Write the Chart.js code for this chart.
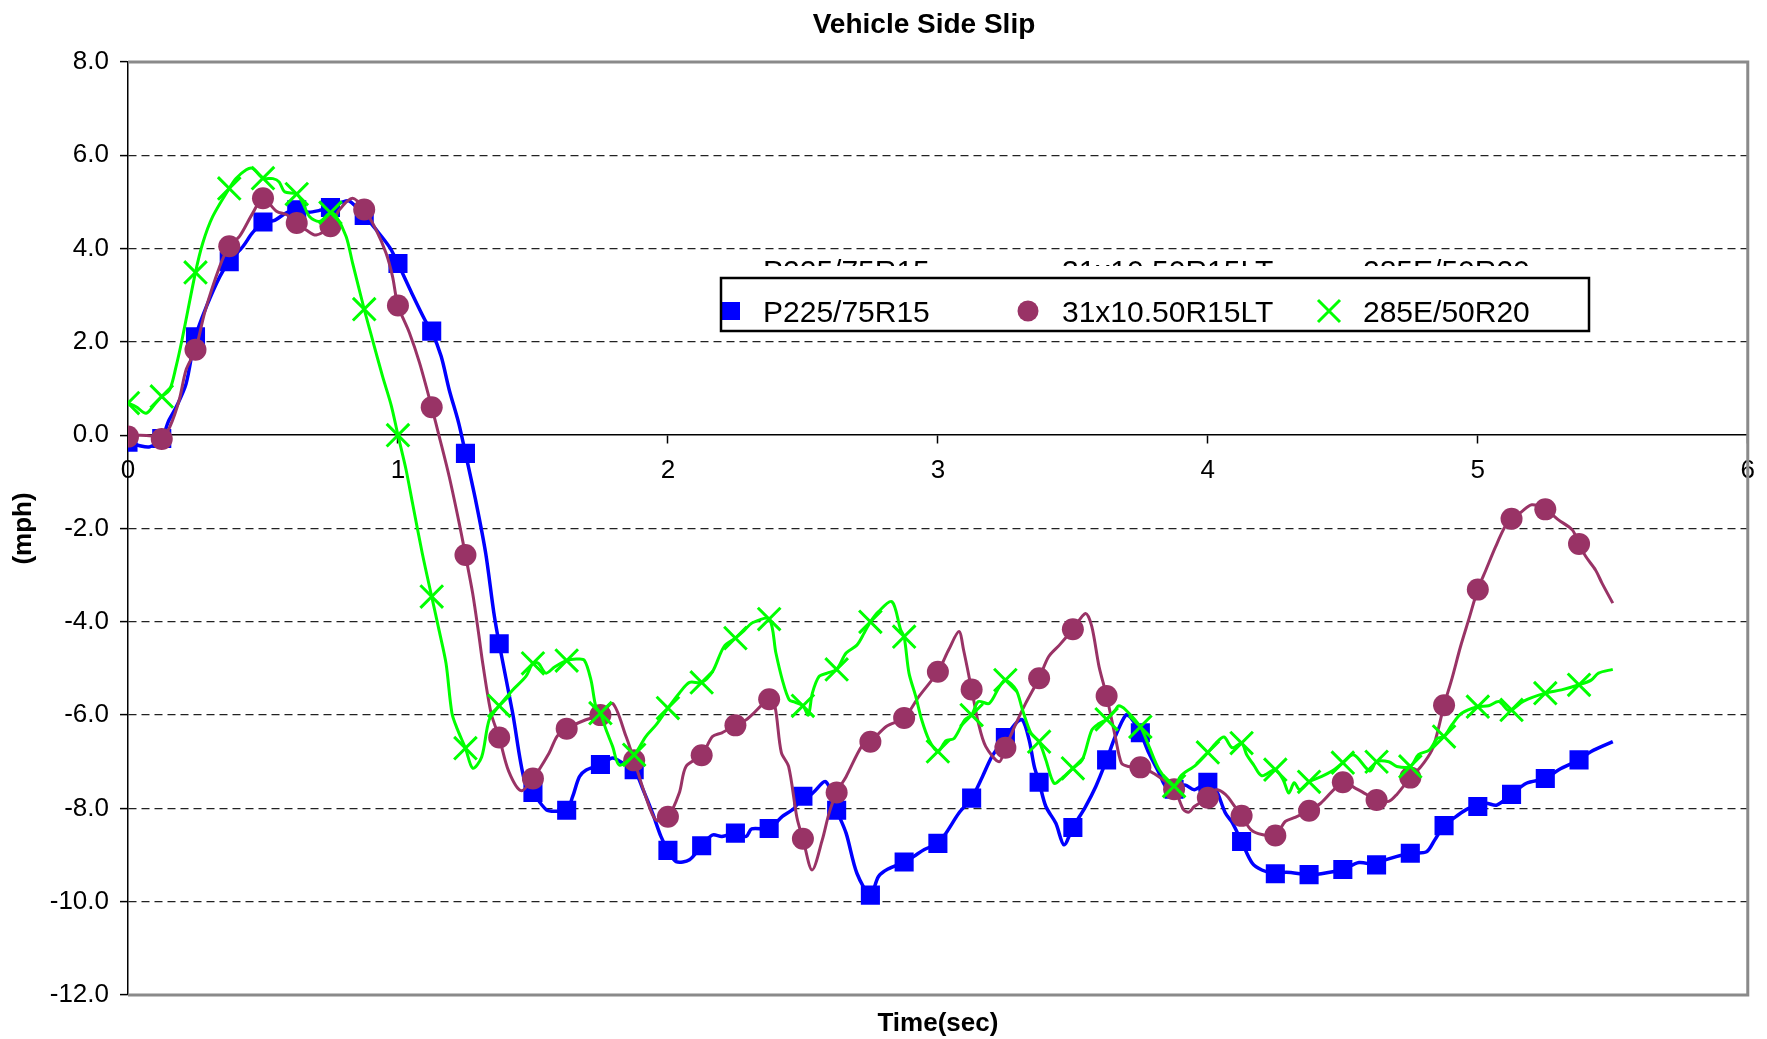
<!DOCTYPE html>
<html>
<head>
<meta charset="utf-8">
<title>Vehicle Side Slip</title>
<script src="https://cdn.jsdelivr.net/npm/chart.js@4.4.1/dist/chart.umd.min.js"></script>
<style>
  html, body { margin: 0; padding: 0; background: #fff; }
  canvas { display: block; }
</style>
</head>
<body>
<canvas id="slipChart" width="1767" height="1039"></canvas>
<script>
// --- data ---
const chartTitle = 'Vehicle Side Slip';
const xTitle = 'Time(sec)';
const yTitle = '(mph)';
const seriesNames = ['P225/75R15', '31x10.50R15LT', '285E/50R20'];

// marker samples (every 1/8 s)
const markerTimes = [0, 0.125, 0.25, 0.375, 0.5, 0.625, 0.75, 0.875, 1, 1.125, 1.25, 1.375, 1.5, 1.625, 1.75, 1.875,
  2, 2.125, 2.25, 2.375, 2.5, 2.625, 2.75, 2.875, 3, 3.125, 3.25, 3.375, 3.5, 3.625, 3.75, 3.875,
  4, 4.125, 4.25, 4.375, 4.5, 4.625, 4.75, 4.875, 5, 5.125, 5.25, 5.375];

const p225Markers = [-0.15, -0.07, 2.11, 3.72, 4.57, 4.83, 4.88, 4.71, 3.68, 2.23, -0.39, -4.47, -7.66, -8.04, -7.06, -7.17,
  -8.9, -8.8, -8.53, -8.43, -7.74, -8.04, -9.86, -9.15, -8.75, -7.78, -6.48, -7.44, -8.41, -6.96, -6.38, -7.59,
  -7.44, -8.71, -9.4, -9.42, -9.31, -9.21, -8.96, -8.37, -7.96, -7.7, -7.36, -6.96];

const lt31Markers = [-0.03, -0.08, 1.83, 4.05, 5.08, 4.55, 4.48, 4.84, 2.78, 0.6, -2.57, -6.48, -7.36, -6.29, -6.0, -6.97,
  -8.18, -6.86, -6.22, -5.66, -8.65, -7.66, -6.57, -6.06, -5.07, -5.45, -6.7, -5.21, -4.16, -5.59, -7.12, -7.59,
  -7.77, -8.16, -8.58, -8.05, -7.44, -7.82, -7.34, -5.79, -3.31, -1.79, -1.59, -2.33];

const e285Markers = [0.69, 0.83, 3.49, 5.29, 5.51, 5.17, 4.77, 2.7, 0.0, -3.46, -6.71, -5.8, -4.89, -4.83, -5.96, -6.85,
  -5.85, -5.3, -4.35, -3.94, -5.8, -5.02, -4.0, -4.32, -6.78, -6.0, -5.25, -6.57, -7.14, -6.09, -6.25, -7.52,
  -6.8, -6.6, -7.17, -7.43, -7.02, -7.0, -7.1, -6.46, -5.82, -5.89, -5.53, -5.35];

// extra trace points [t, value] between the markers
const p225Trace = [[0.04,-0.22],[0.08,-0.25],[0.15,0.3],[0.18,0.62],[0.215,1.1],[0.29,2.75],[0.34,3.4],[0.425,4.04],
  [0.46,4.33],[0.54,4.6],[0.59,4.78],[0.67,4.78],[0.71,4.82],[0.795,5.0],[0.82,5.02],[0.92,4.4],[0.97,4.02],
  [1.05,3.06],[1.1,2.47],[1.16,1.69],[1.19,0.97],[1.225,0.26],[1.29,-1.46],[1.325,-2.53],[1.355,-3.8],
  [1.425,-5.96],[1.468,-7.39],[1.55,-8.03],[1.59,-8.06],[1.647,-7.75],[1.672,-7.32],[1.696,-7.18],[1.795,-6.92],
  [1.832,-7.03],[1.906,-7.57],[1.943,-8.1],[1.974,-8.6],[2.03,-9.14],[2.08,-9.1],[2.165,-8.57],[2.2,-8.6],
  [2.29,-8.6],[2.31,-8.44],[2.424,-8.17],[2.467,-8.0],[2.53,-7.7],[2.585,-7.43],[2.66,-8.53],[2.7,-9.39],
  [2.78,-9.46],[2.815,-9.3],[2.91,-9.03],[2.95,-8.88],[3.03,-8.53],[3.078,-8.1],[3.165,-7.32],[3.2,-6.89],
  [3.29,-6.17],[3.313,-6.1],[3.338,-6.53],[3.357,-7.1],[3.4,-7.96],[3.437,-8.32],[3.467,-8.78],[3.547,-7.96],
  [3.585,-7.53],[3.657,-6.46],[3.696,-6.0],[3.714,-6.05],[3.782,-6.82],[3.82,-7.25],[3.844,-7.53],[3.915,-7.5],
  [3.95,-7.6],[4.03,-7.6],[4.065,-8.1],[4.09,-8.3],[4.164,-9.17],[4.2,-9.32],[4.29,-9.37],[4.42,-9.4],
  [4.56,-9.16],[4.66,-9.1],[4.81,-8.93],[4.84,-8.68],[4.92,-8.17],[4.966,-8.0],[5.03,-7.89],[5.07,-7.93],
  [5.18,-7.46],[5.3,-7.17],[5.42,-6.78],[5.5,-6.57]];

const lt31Trace = [[0.04,0.0],[0.09,-0.02],[0.155,0.18],[0.19,0.76],[0.215,1.4],[0.285,2.65],[0.34,3.62],[0.413,4.26],
  [0.462,4.76],[0.55,4.8],[0.59,4.72],[0.66,4.4],[0.697,4.29],[0.783,4.83],[0.832,5.08],[0.919,4.4],[0.956,3.9],
  [0.98,3.4],[1.042,2.2],[1.08,1.55],[1.153,-0.03],[1.19,-0.89],[1.227,-1.89],[1.277,-3.4],[1.3,-4.3],
  [1.314,-4.89],[1.345,-5.96],[1.41,-7.2],[1.456,-7.62],[1.56,-6.81],[1.59,-6.45],[1.696,-6.1],[1.795,-5.75],
  [1.845,-6.46],[1.918,-7.75],[1.956,-8.25],[2.042,-7.67],[2.067,-7.1],[2.165,-6.46],[2.2,-6.38],[2.29,-6.1],
  [2.31,-6.0],[2.396,-5.8],[2.42,-6.8],[2.447,-7.1],[2.478,-8.2],[2.534,-9.32],[2.572,-8.67],[2.597,-8.1],
  [2.66,-7.32],[2.72,-6.65],[2.81,-6.24],[2.93,-5.6],[3.04,-4.6],[3.078,-4.21],[3.095,-4.6],[3.15,-6.17],
  [3.177,-6.67],[3.227,-7.0],[3.29,-6.17],[3.325,-5.75],[3.41,-4.75],[3.45,-4.5],[3.547,-3.82],[3.57,-4.1],
  [3.597,-4.96],[3.657,-6.46],[3.68,-7.03],[3.705,-7.1],[3.8,-7.25],[3.91,-8.03],[3.93,-8.08],[3.95,-7.96],
  [4.03,-7.6],[4.065,-7.7],[4.1,-7.96],[4.16,-8.46],[4.2,-8.56],[4.287,-8.28],[4.32,-8.2],[4.418,-7.89],
  [4.547,-7.57],[4.57,-7.64],[4.67,-7.85],[4.7,-7.7],[4.79,-7.1],[4.83,-6.75],[4.85,-6.38],[4.905,-5.2],
  [4.936,-4.53],[4.966,-3.96],[5.03,-2.89],[5.066,-2.39],[5.1,-1.97],[5.16,-1.65],[5.2,-1.49],[5.3,-1.82],
  [5.35,-2.03],[5.4,-2.6],[5.436,-2.89],[5.46,-3.17],[5.5,-3.6]];

const e285Trace = [[0.03,0.61],[0.067,0.47],[0.1,0.67],[0.154,0.97],[0.178,1.47],[0.2,2.04],[0.277,4.12],[0.314,4.69],
  [0.4,5.5],[0.438,5.69],[0.462,5.72],[0.537,5.5],[0.56,5.43],[0.58,5.22],[0.648,4.97],[0.672,4.69],[0.709,4.58],
  [0.77,4.7],[0.808,4.26],[0.832,3.69],[0.906,2.04],[0.943,1.26],[0.975,0.64],[1.03,-0.74],[1.054,-1.46],
  [1.09,-2.53],[1.153,-4.2],[1.178,-4.89],[1.2,-5.96],[1.22,-6.3],[1.277,-7.14],[1.31,-6.9],[1.338,-6.1],
  [1.425,-5.46],[1.474,-5.17],[1.52,-4.89],[1.548,-5.1],[1.58,-4.97],[1.66,-4.8],[1.69,-4.82],[1.715,-5.25],
  [1.733,-5.82],[1.77,-6.3],[1.795,-6.67],[1.82,-7.07],[1.918,-6.46],[1.956,-6.21],[2.042,-5.53],[2.08,-5.3],
  [2.165,-5.07],[2.208,-4.53],[2.28,-4.2],[2.313,-4.02],[2.4,-4.67],[2.424,-5.25],[2.449,-5.67],[2.47,-5.72],
  [2.52,-6.0],[2.535,-5.53],[2.56,-5.17],[2.59,-5.1],[2.66,-4.67],[2.7,-4.5],[2.727,-4.24],[2.78,-3.78],
  [2.83,-3.57],[2.862,-4.17],[2.893,-5.1],[2.918,-5.6],[2.94,-6.1],[2.967,-6.53],[3.03,-6.55],[3.06,-6.5],
  [3.1,-6.1],[3.15,-5.71],[3.19,-5.75],[3.227,-5.4],[3.29,-5.46],[3.313,-5.88],[3.345,-6.39],[3.4,-6.96],
  [3.43,-7.46],[3.46,-7.35],[3.535,-6.96],[3.57,-6.32],[3.597,-6.18],[3.657,-5.89],[3.67,-5.8],[3.696,-5.89],
  [3.782,-6.67],[3.82,-7.17],[3.9,-7.3],[3.955,-7.07],[4.03,-6.6],[4.06,-6.47],[4.09,-6.7],[4.144,-6.85],
  [4.17,-7.07],[4.2,-7.3],[4.28,-7.4],[4.3,-7.67],[4.32,-7.45],[4.34,-7.6],[4.42,-7.32],[4.46,-7.2],
  [4.54,-6.85],[4.6,-7.2],[4.67,-7.0],[4.7,-7.1],[4.78,-6.85],[4.82,-6.75],[4.85,-6.5],[4.905,-6.2],
  [4.94,-5.96],[5.04,-5.8],[5.078,-5.71],[5.11,-5.89],[5.17,-5.7],[5.31,-5.46],[5.42,-5.25],[5.447,-5.1],
  [5.5,-5.02]];

const yTicks = [8, 6, 4, 2, 0, -2, -4, -6, -8, -10, -12];

const FONT = '"Liberation Sans", Arial, sans-serif';
const BLUE = '#0000ff', PLUM = '#993366', LIME = '#00ff00';

function markerPoints(values) {
  return markerTimes.map((t, i) => ({ x: t, y: values[i] }));
}
function tracePoints(values, extra) {
  const pts = markerPoints(values);
  extra.forEach(p => pts.push({ x: p[0], y: p[1] }));
  return pts.sort((a, b) => a.x - b.x);
}

// legend drawn inside the plot the way the original sits
function drawMarker(ctx, kind, x, y) {
  ctx.save();
  if (kind === 0) {
    ctx.fillStyle = BLUE;
    ctx.fillRect(x - 9, y - 9, 18, 18);
  } else if (kind === 1) {
    ctx.fillStyle = PLUM;
    ctx.beginPath();
    ctx.arc(x, y, 10.5, 0, Math.PI * 2);
    ctx.fill();
  } else {
    ctx.strokeStyle = LIME;
    ctx.lineWidth = 3;
    ctx.beginPath();
    ctx.moveTo(x - 11, y - 11); ctx.lineTo(x + 11, y + 11);
    ctx.moveTo(x + 11, y - 11); ctx.lineTo(x - 11, y + 11);
    ctx.stroke();
  }
  ctx.restore();
}

const chartDecor = {
  id: 'chartDecor',
  beforeDatasetsDraw(chart) {
    const { ctx, chartArea: a } = chart;
    ctx.save();
    ctx.strokeStyle = '#8a8a8a';
    ctx.lineWidth = 3;
    ctx.beginPath();
    ctx.moveTo(a.left, a.top);
    ctx.lineTo(a.right, a.top);
    ctx.lineTo(a.right, a.bottom);
    ctx.lineTo(a.left, a.bottom);
    ctx.stroke();
    ctx.restore();
  },
  afterDraw(chart) {
    const { ctx, chartArea: a } = chart;
    ctx.save();
    ctx.fillStyle = '#000';
    ctx.textAlign = 'center';
    ctx.textBaseline = 'alphabetic';
    ctx.font = 'bold 28px ' + FONT;
    ctx.fillText(chartTitle, 924, 33);
    ctx.font = 'bold 26px ' + FONT;
    ctx.fillText(xTitle, (a.left + a.right) / 2, 1031);
    ctx.save();
    ctx.translate(24, (a.top + a.bottom) / 2);
    ctx.rotate(-Math.PI / 2);
    ctx.textBaseline = 'middle';
    ctx.fillText(yTitle, 0, 0);
    ctx.restore();

    // legend box
    const box = { l: 721, t: 278, w: 868, h: 53 };
    const textX = [763, 1062, 1363];
    const markX = [731, 1028, 1329];
    ctx.fillStyle = '#fff';
    ctx.fillRect(box.l, box.t, box.w, box.h);
    ctx.font = '30px ' + FONT;
    ctx.textAlign = 'left';
    ctx.textBaseline = 'alphabetic';

    // clipped duplicate row peeking above the box
    ctx.save();
    ctx.beginPath();
    ctx.rect(box.l, 240, box.w, 26);
    ctx.clip();
    ctx.fillStyle = '#000';
    seriesNames.forEach((name, i) => ctx.fillText(name, textX[i], 281));
    ctx.restore();

    seriesNames.forEach((name, i) => {
      drawMarker(ctx, i, markX[i], 311);
      ctx.fillStyle = '#000';
      ctx.fillText(name, textX[i], 322);
    });
    ctx.strokeStyle = '#000';
    ctx.lineWidth = 2.5;
    ctx.strokeRect(box.l, box.t, box.w, box.h);
    ctx.restore();
  }
};

const ctx = document.getElementById('slipChart').getContext('2d');

new Chart(ctx, {
  type: 'line',
  data: {
    datasets: [
      { label: seriesNames[0] + ' trace', data: tracePoints(p225Markers, p225Trace), borderColor: BLUE,
        borderWidth: 3.5, pointRadius: 0, tension: 0.3, order: 6 },
      { label: seriesNames[0], data: markerPoints(p225Markers), showLine: false, pointStyle: 'rect',
        pointRadius: 13.5, backgroundColor: BLUE, borderColor: BLUE, borderWidth: 0, order: 5 },
      { label: seriesNames[1] + ' trace', data: tracePoints(lt31Markers, lt31Trace), borderColor: PLUM,
        borderWidth: 3, pointRadius: 0, tension: 0.3, order: 4 },
      { label: seriesNames[1], data: markerPoints(lt31Markers), showLine: false, pointStyle: 'circle',
        pointRadius: 11, backgroundColor: PLUM, borderColor: PLUM, borderWidth: 0, order: 3 },
      { label: seriesNames[2] + ' trace', data: tracePoints(e285Markers, e285Trace), borderColor: LIME,
        borderWidth: 3, pointRadius: 0, tension: 0.3, order: 2 },
      { label: seriesNames[2], data: markerPoints(e285Markers), showLine: false, pointStyle: 'crossRot',
        pointRadius: 16, backgroundColor: LIME, borderColor: LIME, borderWidth: 3, order: 1 }
    ]
  },
  options: {
    responsive: false,
    animation: false,
    layout: { padding: { top: 62, bottom: 44, left: 0, right: 18 } },
    plugins: {
      legend: { display: false },
      tooltip: { enabled: false },
      title: { display: false }
    },
    scales: {
      x: {
        type: 'linear',
        min: 0,
        max: 6,
        position: { y: 0 },
        ticks: {
          stepSize: 1,
          padding: 12,
          color: '#000',
          font: { family: FONT, size: 26 },
          callback: v => String(v)
        },
        grid: { drawOnChartArea: false, drawTicks: true, tickLength: 8, color: '#000', tickWidth: 1.5 },
        border: { display: true, color: '#000', width: 1.5 }
      },
      y: {
        type: 'linear',
        min: -12,
        max: 8,
        afterFit: s => { s.width = 128; },
        afterBuildTicks: s => { s.ticks = yTicks.map(v => ({ value: v })); },
        ticks: {
          padding: 11,
          color: '#000',
          font: { family: FONT, size: 26 },
          callback: v => Number(v).toFixed(1)
        },
        grid: {
          color: c => ([8, 0, -12].includes(c.tick && c.tick.value) ? 'rgba(0,0,0,0)' : '#222'),
          lineWidth: 1.2,
          tickColor: '#000',
          tickLength: 8,
          tickWidth: 1.5
        },
        border: { display: true, color: '#000', width: 1.5, dash: [8, 5] }
      }
    }
  },
  plugins: [chartDecor]
});
</script>
</body>
</html>
